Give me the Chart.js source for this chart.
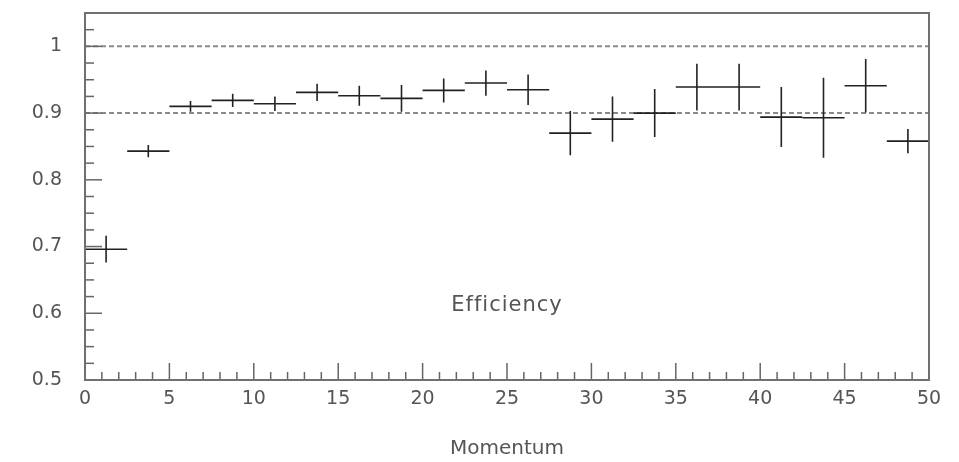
<!DOCTYPE html>
<html>
<head>
<meta charset="utf-8">
<script src="https://cdn.jsdelivr.net/npm/chart.js@4/dist/chart.umd.min.js"></script>
<style>
  html, body { margin: 0; padding: 0; background: #fff; }
  #wrap { width: 959px; height: 462px; }
</style>
</head>
<body>
<div id="wrap"><canvas id="effChart"></canvas></div>
<script>
// bin centres (momentum), bin half width, efficiency and its error
const momentum = [1.25, 3.75, 6.25, 8.75, 11.25, 13.75, 16.25, 18.75, 21.25, 23.75,
                  26.25, 28.75, 31.25, 33.75, 36.25, 38.75, 41.25, 43.75, 46.25, 48.75];
const binHalf = [1.25, 1.25, 1.25, 1.25, 1.25, 1.25, 1.25, 1.25, 1.25, 1.25,
                 1.25, 1.25, 1.25, 1.25, 1.25, 1.25, 1.25, 1.25, 1.25, 1.25];
const efficiency = [0.696, 0.843, 0.910, 0.919, 0.914, 0.931, 0.926, 0.922, 0.934, 0.945,
                    0.935, 0.870, 0.891, 0.900, 0.939, 0.939, 0.894, 0.893, 0.941, 0.858];
const effError = [0.020, 0.009, 0.008, 0.010, 0.011, 0.013, 0.015, 0.020, 0.018, 0.019,
                  0.023, 0.033, 0.034, 0.036, 0.035, 0.035, 0.045, 0.060, 0.040, 0.018];
const refLines = [1.0, 0.9];
const histTitle = "Efficiency";

const labelFont = { family: "'DejaVu Sans', sans-serif", size: 19 };

const frameAndMarks = {
  id: "frameAndMarks",
  beforeDatasetsDraw(chart) {
    const { ctx, chartArea: a, scales: { x, y } } = chart;
    ctx.save();
    // dashed reference lines
    ctx.strokeStyle = "#8a8a8a";
    ctx.lineWidth = 2;
    ctx.setLineDash([5, 3]);
    refLines.forEach(v => {
      const py = y.getPixelForValue(v);
      ctx.beginPath();
      ctx.moveTo(a.left, py);
      ctx.lineTo(a.right, py);
      ctx.stroke();
    });
    ctx.setLineDash([]);

    // ticks pointing into the plot
    ctx.strokeStyle = "#666";
    ctx.lineWidth = 1.5;
    x.ticks.forEach(t => {
      const px = x.getPixelForValue(t.value);
      const major = Math.abs(t.value / 5 - Math.round(t.value / 5)) < 1e-6;
      ctx.beginPath();
      ctx.moveTo(px, a.bottom);
      ctx.lineTo(px, a.bottom - (major ? 17 : 8));
      ctx.stroke();
    });
    y.ticks.forEach(t => {
      const py = y.getPixelForValue(t.value);
      const major = Math.abs(t.value * 10 - Math.round(t.value * 10)) < 1e-6;
      ctx.beginPath();
      ctx.moveTo(a.left, py);
      ctx.lineTo(a.left + (major ? 17 : 9), py);
      ctx.stroke();
    });

    // histogram title inside the frame
    ctx.fillStyle = "#555";
    ctx.font = "21px 'DejaVu Sans', sans-serif";
    ctx.letterSpacing = "1px";
    ctx.textAlign = "center";
    ctx.textBaseline = "middle";
    ctx.fillText(histTitle, (a.left + a.right) / 2, y.getPixelForValue(0.611));
    ctx.restore();
  },
  afterDatasetsDraw(chart) {
    const { ctx, scales: { x, y } } = chart;
    ctx.save();
    ctx.strokeStyle = "#222";
    ctx.lineWidth = 1.6;
    momentum.forEach((m, i) => {
      const cx = x.getPixelForValue(m);
      const cy = y.getPixelForValue(efficiency[i]);
      ctx.beginPath();
      ctx.moveTo(x.getPixelForValue(m - binHalf[i]), cy);
      ctx.lineTo(x.getPixelForValue(m + binHalf[i]), cy);
      ctx.moveTo(cx, y.getPixelForValue(efficiency[i] - effError[i]));
      ctx.lineTo(cx, y.getPixelForValue(efficiency[i] + effError[i]));
      ctx.stroke();
    });
    ctx.restore();
  },
  afterDraw(chart) {
    const { ctx, chartArea: a } = chart;
    ctx.save();
    ctx.strokeStyle = "#707070";
    ctx.lineWidth = 2;
    ctx.strokeRect(a.left, a.top, a.right - a.left, a.bottom - a.top);
    ctx.restore();
  }
};

new Chart(document.getElementById("effChart"), {
  type: "scatter",
  data: {
    datasets: [{
      label: histTitle,
      data: momentum.map((m, i) => ({ x: m, y: efficiency[i] })),
      pointRadius: 0,
      showLine: false
    }]
  },
  options: {
    responsive: true,
    maintainAspectRatio: false,
    animation: false,
    layout: { padding: { top: 13, right: 30, left: 0, bottom: 0 } },
    plugins: { legend: { display: false }, tooltip: { enabled: false } },
    scales: {
      x: {
        type: "linear",
        min: 0,
        max: 50,
        grid: { display: false, drawTicks: false },
        border: { display: false },
        ticks: {
          stepSize: 1,
          autoSkip: false,
          maxRotation: 0,
          padding: 8,
          color: "#555",
          font: labelFont,
          callback: v => (Math.abs(v / 5 - Math.round(v / 5)) < 1e-6 ? String(Math.round(v)) : "")
        },
        title: {
          display: true,
          text: "Momentum",
          color: "#555",
          font: { family: "'DejaVu Sans', sans-serif", size: 20 },
          padding: { top: 0, bottom: 1 }
        },
        afterFit: s => { s.height = 82; }
      },
      y: {
        type: "linear",
        min: 0.5,
        max: 1.05,
        grid: { display: true, drawOnChartArea: false, drawTicks: true, tickLength: 23, color: "rgba(0,0,0,0)" },
        border: { display: false },
        ticks: {
          stepSize: 0.025,
          autoSkip: false,
          padding: 0,
          color: "#555",
          font: labelFont,
          callback: v => {
            if (Math.abs(v * 10 - Math.round(v * 10)) > 1e-6 || v > 1.001) return "";
            const r = Math.round(v * 10) / 10;
            return r === 1 ? "1" : r.toFixed(1);
          }
        },
        afterFit: s => { s.width = 85; }
      }
    }
  },
  plugins: [frameAndMarks]
});
</script>
</body>
</html>
